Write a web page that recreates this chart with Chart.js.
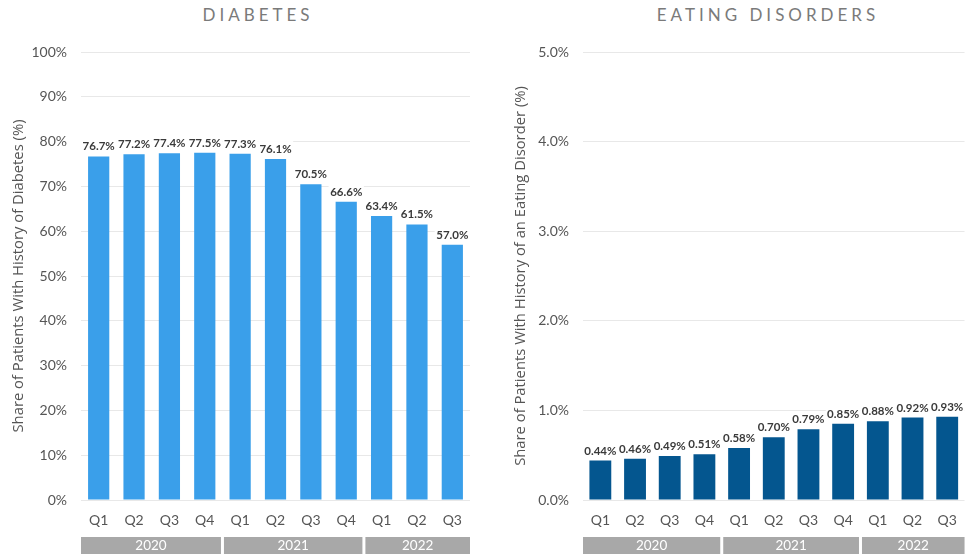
<!DOCTYPE html>
<html>
<head>
<meta charset="utf-8">
<script src="https://cdn.jsdelivr.net/npm/chart.js@4"></script>
<style>
  html, body { margin: 0; padding: 0; background: #fff; }
  body { width: 969px; height: 554px; position: relative; overflow: hidden; font-family: Lato, "Open Sans", sans-serif; }
  .title { position: absolute; top: 4px; font-size: 17px; letter-spacing: 4px; color: #7a7a7a; text-align: center; white-space: nowrap; }
  .box { position: absolute; top: 0; height: 554px; }
</style>
</head>
<body>
<div class="title" style="left:158px; width:200px;">DIABETES</div>
<div class="title" style="left:648px; width:240px;">EATING DISORDERS</div>
<div class="box" style="left:0; width:485px;"><canvas id="c1"></canvas></div>
<div class="box" style="left:485px; width:484px;"><canvas id="c2"></canvas></div>
<script>
const quarters = ['Q1','Q2','Q3','Q4','Q1','Q2','Q3','Q4','Q1','Q2','Q3'];
const years = ['2020','2021','2022'];
const quartersPerYear = [4, 4, 3];
const diabetesShare = [76.7, 77.2, 77.4, 77.5, 77.3, 76.1, 70.5, 66.6, 63.4, 61.5, 57.0];
const eatingDisorderShare = [0.44, 0.46, 0.49, 0.51, 0.58, 0.70, 0.79, 0.85, 0.88, 0.92, 0.93];

const FONT = 'Lato, "Open Sans", sans-serif';
const TITLE_FONT = '"Open Sans", Lato, sans-serif';

const labelPlugin = {
  id: 'barLabels',
  afterDatasetsDraw(chart, args, opts) {
    const ctx = chart.ctx;
    const meta = chart.getDatasetMeta(0);
    const xs = chart.scales.x;
    const catW = (xs.right - xs.left) / chart.data.labels.length;
    ctx.save();
    ctx.font = 'bold 11.5px ' + FONT;
    ctx.textAlign = 'center';
    ctx.textBaseline = 'bottom';
    meta.data.forEach((bar, i) => {
      const v = chart.data.datasets[0].data[i];
      const txt = opts.fmt(v);
      ctx.fillStyle = '#ffffff';
      ctx.fillRect(bar.x - catW / 2, bar.y - 18, catW, 14);
      ctx.fillStyle = '#3a3a3a';
      ctx.fillText(txt, bar.x, bar.y - 4);
    });
    ctx.restore();
  }
};

const yearBandPlugin = {
  id: 'yearBands',
  afterDraw(chart) {
    const ctx = chart.ctx;
    const xs = chart.scales.x;
    const n = chart.data.labels.length;
    const catW = (xs.right - xs.left) / n;
    let idx = 0;
    ctx.save();
    years.forEach((y, k) => {
      const cnt = quartersPerYear[k];
      let x0 = xs.getPixelForValue(idx) - catW / 2;
      let x1 = xs.getPixelForValue(idx + cnt - 1) + catW / 2;
      if (k > 0) x0 += 1.5;
      if (k < years.length - 1) x1 -= 1.5;
      ctx.fillStyle = '#a8a8a8';
      ctx.fillRect(x0, 537, x1 - x0, 17);
      ctx.fillStyle = '#ffffff';
      ctx.font = '13.5px ' + FONT;
      ctx.textAlign = 'center';
      ctx.textBaseline = 'middle';
      ctx.fillText(y, (x0 + x1) / 2, 546);
      idx += cnt;
    });
    ctx.restore();
  }
};

function makeChart(id, data, color, yMax, yStep, tickFmt, labelFmt, yTitle, yWidth, titlePad, rightPad, barPct) {
  return new Chart(document.getElementById(id), {
    type: 'bar',
    data: {
      labels: quarters,
      datasets: [{ data: data, backgroundColor: color, categoryPercentage: 1, barPercentage: barPct }]
    },
    options: {
      responsive: true,
      maintainAspectRatio: false,
      animation: false,
      layout: { padding: { top: 52, right: rightPad, left: 0, bottom: 0 } },
      plugins: { legend: { display: false }, tooltip: { enabled: false }, barLabels: { fmt: labelFmt } },
      scales: {
        x: {
          grid: { display: false, drawTicks: false },
          border: { display: false },
          ticks: { color: '#555', font: { family: FONT, size: 14 }, padding: 12, maxRotation: 0, autoSkip: false },
          afterFit(s) { s.height = 54; }
        },
        y: {
          min: 0, max: yMax,
          grid: { color: '#e8e8e8', drawTicks: false, lineWidth: 1 },
          border: { display: false },
          ticks: { stepSize: yStep, color: '#555', font: { family: FONT, size: 14 }, padding: 14, callback: tickFmt },
          title: { display: true, text: yTitle, color: '#555', font: { family: TITLE_FONT, size: 14.8 }, padding: { top: titlePad, bottom: 0 } },
          afterFit(s) { s.width = yWidth; }
        }
      }
    },
    plugins: [labelPlugin, yearBandPlugin]
  });
}

makeChart('c1', diabetesShare, '#3a9fea', 100, 10,
  v => v + '%', v => v.toFixed(1) + '%',
  'Share of Patients With History of Diabetes (%)', 81, 10, 15, 0.6);
makeChart('c2', eatingDisorderShare, '#04568f', 5, 1,
  v => v.toFixed(1) + '%', v => v.toFixed(2) + '%',
  'Share of Patients With History of an Eating Disorder (%)', 98, 27, 3, 0.63);
</script>
</body>
</html>
